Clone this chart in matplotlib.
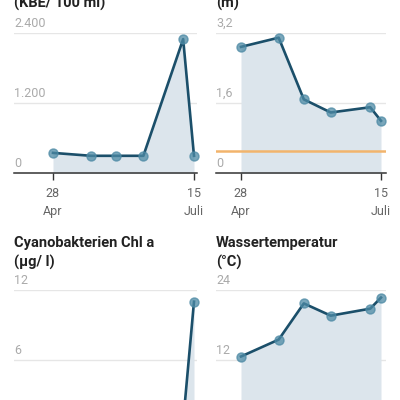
import matplotlib
matplotlib.use("Agg")
import matplotlib.pyplot as plt
import numpy as np

plt.rcParams['font.family'] = ['Roboto', 'DejaVu Sans']

# ---- data ----
days = [0, 21, 35, 50, 72, 78]          # days after 28 Apr
xtick_days = [0, 78]
xtick_labels = ["28\nApr", "15\nJuli"]

ecoli = [350, 300, 300, 300, 2300, 300]
sicht = [2.89, 3.10, 1.69, 1.39, 1.51, 1.20]
sicht_min = 0.5
cyano = [0.3, 0.2, 0.3, 0.4, 0.7, 11.0]
temp = [12.6, 15.5, 21.7, 19.6, 20.8, 22.7]

titles = ["(KBE/ 100 ml)", "(m)", "Cyanobakterien Chl a\n(µg/ l)", "Wassertemperatur\n(°C)"]
yticks = [[0, 1200, 2400], [0, 1.6, 3.2], [0, 6, 12], [0, 12, 24]]
yticklabels = [["0", "1.200", "2.400"], ["0", "1,6", "3,2"], ["0", "6", "12"], ["0", "12", "24"]]
series = [ecoli, sicht, cyano, temp]

W = H = 400
fig = plt.figure(figsize=(4, 4), dpi=100)
fig.patch.set_facecolor("white")

LINE = "#1b4f6a"
MARK = "#4d8aa5"
FILL = "#dce5ec"
GRID = "#e6e6e6"

# panel rects in pixels: left, right, top(y of top gridline), bottom(y of zero line)
panels = [
    (14, 197, 33.3, 173.3, (53, 194)),
    (216, 386, 33.3, 173.3, (241, 381)),
    (14, 197, 290, 430, (53, 194)),
    (216, 386, 290, 430, (241, 381)),
]
title_y = [11, 11, 270, 270]

for i, (l, r, t, b, (p0, p78)) in enumerate(panels):
    ax = fig.add_axes([l / W, 1 - b / H, (r - l) / W, (b - t) / H])
    scale = (p78 - p0) / 78.0
    ax.set_xlim((l - p0) / scale, (r - p0) / scale)
    ymax = yticks[i][-1]
    ax.set_ylim(0, ymax)
    ax.set_facecolor("none")
    for s in ["top", "right", "left"]:
        ax.spines[s].set_visible(False)
    ax.spines["bottom"].set_color("#333333")
    ax.spines["bottom"].set_linewidth(1.1)
    ax.set_yticks([])
    ax.set_xticks(xtick_days)
    visible_bottom = i < 2
    if visible_bottom:
        ax.set_xticklabels(xtick_labels, color="#666666", fontsize=9, linespacing=1.5)
    else:
        ax.set_xticklabels(["", ""])
    ax.tick_params(axis="x", length=5, width=1, color="#333333", pad=5)
    for yv, lab in zip(yticks[i], yticklabels[i]):
        if yv != 0:
            ax.axhline(yv, color=GRID, lw=1, zorder=0)
        if yv == 0 and not visible_bottom:
            continue
        ax.annotate(lab, xy=(0, yv), xycoords=("axes fraction", "data"),
                    xytext=(0, 2.5), textcoords="offset points",
                    ha="left", va="bottom", fontsize=9, color="#aaaaaa",
                    annotation_clip=False)
    y = series[i]
    ax.fill_between(days, y, 0, color=FILL, lw=0, zorder=1)
    if i == 1:
        ax.axhline(sicht_min, color="#f2b46c", lw=1.8, zorder=2)
    ax.plot(days, y, color=LINE, lw=1.9, zorder=3, clip_on=False)
    ax.plot(days, y, "o", ms=6.5, mfc=MARK, mec=MARK, alpha=0.75, zorder=4, clip_on=False)
    fig.text(l / W, 1 - title_y[i] / H, titles[i], ha="left", va="bottom",
             fontsize=10.5, fontweight="bold", color="#222222", linespacing=1.45)

fig.savefig("out.png", dpi=100, facecolor="white")
